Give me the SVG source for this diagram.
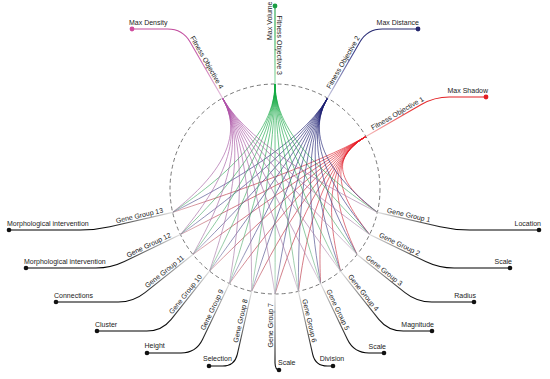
<svg xmlns="http://www.w3.org/2000/svg" width="550" height="379" viewBox="0 0 550 379">
<style>
text{font-family:"Liberation Sans",Arial,sans-serif;font-size:7px;fill:#222}
.gl{fill:none;stroke:url(#gGG);stroke-width:1.1}
.dot{fill:#111}
.ch{fill:none;stroke-width:0.65}
.c1{stroke:url(#cR)}.c2{stroke:url(#cN)}.c3{stroke:url(#cG)}.c4{stroke:url(#cM)}
.e{text-anchor:end}.m{text-anchor:middle}
</style>
<defs>
<radialGradient id="gGG" gradientUnits="userSpaceOnUse" cx="275" cy="189" r="190">
<stop offset="0.55" stop-color="#e2e2e2"/><stop offset="0.75" stop-color="#777"/><stop offset="0.9" stop-color="#111"/><stop offset="1" stop-color="#000"/>
</radialGradient>
<radialGradient id="gF1" gradientUnits="userSpaceOnUse" cx="275" cy="189" r="190">
<stop offset="0.55" stop-color="#f5c0c0"/><stop offset="0.85" stop-color="#e53030"/><stop offset="1" stop-color="#e21e22"/>
</radialGradient>
<radialGradient id="gF2" gradientUnits="userSpaceOnUse" cx="275" cy="189" r="190">
<stop offset="0.55" stop-color="#c8c8e0"/><stop offset="0.85" stop-color="#3a3c88"/><stop offset="1" stop-color="#25286e"/>
</radialGradient>
<radialGradient id="gF3" gradientUnits="userSpaceOnUse" cx="275" cy="189" r="190">
<stop offset="0.55" stop-color="#8fd8a6"/><stop offset="0.85" stop-color="#22a84c"/><stop offset="1" stop-color="#1a9e44"/>
</radialGradient>
<radialGradient id="gF4" gradientUnits="userSpaceOnUse" cx="275" cy="189" r="190">
<stop offset="0.55" stop-color="#e6c2de"/><stop offset="0.85" stop-color="#c45aa8"/><stop offset="1" stop-color="#c24a9c"/>
</radialGradient>
<radialGradient id="cR" gradientUnits="userSpaceOnUse" cx="365.9" cy="136.5" r="230">
<stop offset="0" stop-color="#ec1820"/><stop offset="0.3" stop-color="#d42838"/><stop offset="0.7" stop-color="#b83848"/><stop offset="1" stop-color="#d0b0b4"/>
</radialGradient>
<radialGradient id="cN" gradientUnits="userSpaceOnUse" cx="327.5" cy="98.1" r="230">
<stop offset="0" stop-color="#1a1c70"/><stop offset="0.4" stop-color="#2c2e7c"/><stop offset="0.75" stop-color="#555590"/><stop offset="1" stop-color="#c0c0d4"/>
</radialGradient>
<radialGradient id="cG" gradientUnits="userSpaceOnUse" cx="275" cy="84" r="230">
<stop offset="0" stop-color="#10aa40"/><stop offset="0.4" stop-color="#2aa855"/><stop offset="0.75" stop-color="#60b078"/><stop offset="1" stop-color="#c4dccb"/>
</radialGradient>
<radialGradient id="cM" gradientUnits="userSpaceOnUse" cx="222.5" cy="98.1" r="230">
<stop offset="0" stop-color="#b050a8"/><stop offset="0.4" stop-color="#a060a0"/><stop offset="0.75" stop-color="#a880a8"/><stop offset="1" stop-color="#dccedc"/>
</radialGradient>
</defs>
<rect width="550" height="379" fill="#fff"/>
<circle cx="275" cy="189" r="105" fill="none" stroke="#555" stroke-width="0.8" stroke-dasharray="4 3"/>
<g id="connectors">
<path class="ch c1" d="M365.9 136.5C315.9 165.4 358.95 198.3 377.4 212.4M365.9 136.5C315.9 165.4 353.49 213.84 369.6 234.6M365.9 136.5C315.9 165.4 344.74 227.77 357.1 254.5M365.9 136.5C315.9 165.4 333.12 239.39 340.5 271.1M365.9 136.5C315.9 165.4 319.19 248.14 320.6 283.6M365.9 136.5C315.9 165.4 303.65 253.6 298.4 291.4M365.9 136.5C315.9 165.4 287.27 255.42 275 294M365.9 136.5C315.9 165.4 270.89 253.6 251.6 291.4M365.9 136.5C315.9 165.4 255.35 248.14 229.4 283.6M365.9 136.5C315.9 165.4 241.42 239.39 209.5 271.1M365.9 136.5C315.9 165.4 229.8 227.77 192.9 254.5M365.9 136.5C315.9 165.4 221.05 213.84 180.4 234.6M365.9 136.5C315.9 165.4 215.59 198.3 172.6 212.4"/>
<path class="ch c2" d="M327.5 98.1C298.6 148.1 353.76 193.11 377.4 212.4M327.5 98.1C298.6 148.1 348.3 208.65 369.6 234.6M327.5 98.1C298.6 148.1 339.55 222.58 357.1 254.5M327.5 98.1C298.6 148.1 327.93 234.2 340.5 271.1M327.5 98.1C298.6 148.1 314 242.95 320.6 283.6M327.5 98.1C298.6 148.1 298.46 248.41 298.4 291.4M327.5 98.1C298.6 148.1 282.08 250.23 275 294M327.5 98.1C298.6 148.1 265.7 248.41 251.6 291.4M327.5 98.1C298.6 148.1 250.16 242.95 229.4 283.6M327.5 98.1C298.6 148.1 236.23 234.2 209.5 271.1M327.5 98.1C298.6 148.1 224.61 222.58 192.9 254.5M327.5 98.1C298.6 148.1 215.86 208.65 180.4 234.6M327.5 98.1C298.6 148.1 210.4 193.11 172.6 212.4"/>
<path class="ch c3" d="M275 84C275 141.75 346.68 191.21 377.4 212.4M275 84C275 141.75 341.22 206.75 369.6 234.6M275 84C275 141.75 332.47 220.68 357.1 254.5M275 84C275 141.75 320.85 232.3 340.5 271.1M275 84C275 141.75 306.92 241.05 320.6 283.6M275 84C275 141.75 291.38 246.51 298.4 291.4M275 84C275 141.75 275.3 248.33 275.01 294M275 84C275 141.75 258.62 246.51 251.6 291.4M275 84C275 141.75 243.08 241.05 229.4 283.6M275 84C275 141.75 229.15 232.3 209.5 271.1M275 84C275 141.75 217.53 220.68 192.9 254.5M275 84C275 141.75 208.78 206.75 180.4 234.6M275 84C275 141.75 203.32 191.21 172.6 212.4"/>
<path class="ch c4" d="M222.5 98.1C251.4 148.1 339.6 193.11 377.4 212.4M222.5 98.1C251.4 148.1 334.14 208.65 369.6 234.6M222.5 98.1C251.4 148.1 325.39 222.58 357.1 254.5M222.5 98.1C251.4 148.1 313.77 234.2 340.5 271.1M222.5 98.1C251.4 148.1 299.84 242.95 320.6 283.6M222.5 98.1C251.4 148.1 284.3 248.41 298.4 291.4M222.5 98.1C251.4 148.1 267.92 250.23 275 294M222.5 98.1C251.4 148.1 251.54 248.41 251.6 291.4M222.5 98.1C251.4 148.1 236 242.95 229.4 283.6M222.5 98.1C251.4 148.1 222.07 234.2 209.5 271.1M222.5 98.1C251.4 148.1 210.45 222.58 192.9 254.5M222.5 98.1C251.4 148.1 201.7 208.65 180.4 234.6M222.5 98.1C251.4 148.1 196.24 193.11 172.6 212.4"/>
</g>
<g id="fo1">
<path d="M365.9 136.5L421.3 104.5Q434.3 97 449.3 97L486 97" fill="none" stroke="url(#gF1)" stroke-width="1.1"/>
<circle cx="486" cy="97" r="2.4" fill="#e21e22"/>
<text transform="translate(373.7 132) rotate(-30)" y="-2">Fitness Objective 1</text>
<text class="e" x="488" y="92.5">Max Shadow</text>
</g>
<g id="fo2">
<path d="M327.5 98.1L359.9 42Q367.4 29 382.4 29L418 29" fill="none" stroke="url(#gF2)" stroke-width="1.1"/>
<circle cx="418" cy="29" r="2.4" fill="#25286e"/>
<text transform="translate(332 90.3) rotate(-60)" y="-2">Fitness Objective 2</text>
<text class="e" x="419" y="24.5">Max Distance</text>
</g>
<g id="fo3">
<path d="M275 84L275 6" fill="none" stroke="url(#gF3)" stroke-width="1.1"/>
<circle cx="275" cy="6" r="2.4" fill="#1a9e44"/>
<text class="e" transform="translate(275 75) rotate(90)" y="-2">Fitness Objective 3</text>
<text transform="translate(271.5 40) rotate(-90)">Max Volume</text>
</g>
<g id="fo4">
<path d="M222.5 98.1L190.1 42Q182.6 29 167.6 29L132 29" fill="none" stroke="url(#gF4)" stroke-width="1.1"/>
<circle cx="132" cy="29" r="2.4" fill="#d04c9e"/>
<text class="e" transform="translate(218 90.3) rotate(60)" y="-2">Fitness Objective 4</text>
<text x="129" y="24.5">Max Density</text>
</g>
<g id="gg1">
<path class="gl" d="M377.4 212.4L440.1 226.7Q454.7 230 469.7 230L539 230"/>
<circle class="dot" cx="539" cy="230" r="2.3"/>
<text transform="translate(386.1 214.4) rotate(12.86)" y="-2">Gene Group 1</text>
<text class="e" x="541" y="225.5">Location</text>
</g>
<g id="gg2">
<path class="gl" d="M369.6 234.6L425.6 261.5Q439.1 268 454.1 268L510 268"/>
<circle class="dot" cx="510" cy="268" r="2.3"/>
<text transform="translate(377.7 238.5) rotate(25.71)" y="-2">Gene Group 2</text>
<text class="e" x="512" y="263.5">Scale</text>
</g>
<g id="gg3">
<path class="gl" d="M357.1 254.5L405 292.6Q416.7 302 431.7 302L474 302"/>
<circle class="dot" cx="474" cy="302" r="2.3"/>
<text transform="translate(364.1 260.1) rotate(38.57)" y="-2">Gene Group 3</text>
<text class="e" x="476" y="297.5">Radius</text>
</g>
<g id="gg4">
<path class="gl" d="M340.5 271.1L378.8 319.3Q388.2 331 403.2 331L432 331"/>
<circle class="dot" cx="432" cy="331" r="2.3"/>
<text transform="translate(346.1 278.1) rotate(51.43)" y="-2">Gene Group 4</text>
<text class="e" x="434" y="326.5">Magnitude</text>
</g>
<g id="gg5">
<path class="gl" d="M320.6 283.6L347.5 339.5Q354 353 369 353L384 353"/>
<circle class="dot" cx="384" cy="353" r="2.3"/>
<text transform="translate(324.5 291.7) rotate(64.29)" y="-2">Gene Group 5</text>
<text class="e" x="386" y="348.5">Scale</text>
</g>
<g id="gg6">
<path class="gl" d="M298.4 291.4L312.7 354.3Q315.4 366 327.4 366L333 366"/>
<circle class="dot" cx="333" cy="366" r="2.3"/>
<text transform="translate(300.4 300.1) rotate(77.14)" y="-2">Gene Group 6</text>
<text class="m" x="332" y="361">Division</text>
</g>
<g id="gg7">
<path class="gl" d="M275 294L275 363Q275.3 370 279 370"/>
<circle class="dot" cx="279" cy="370" r="2.3"/>
<text class="e" transform="translate(275 303) rotate(-90)" y="-2">Gene Group 7</text>
<text x="278" y="365">Scale</text>
</g>
<g id="gg8">
<path class="gl" d="M251.6 291.4L237.3 354.3Q234.6 366 222.6 366L209 366"/>
<circle class="dot" cx="209" cy="366" r="2.3"/>
<text class="e" transform="translate(249.6 300.1) rotate(-77.14)" y="-2">Gene Group 8</text>
<text x="203" y="361">Selection</text>
</g>
<g id="gg9">
<path class="gl" d="M229.4 283.6L202.5 339.5Q196 353 181 353L147 353"/>
<circle class="dot" cx="147" cy="353" r="2.3"/>
<text class="e" transform="translate(225.5 291.7) rotate(-64.29)" y="-2">Gene Group 9</text>
<text x="144.5" y="348">Height</text>
</g>
<g id="gg10">
<path class="gl" d="M209.5 271.1L171.2 319.3Q161.8 331 146.8 331L97 331"/>
<circle class="dot" cx="97" cy="331" r="2.3"/>
<text class="e" transform="translate(203.9 278.1) rotate(-51.43)" y="-2">Gene Group 10</text>
<text x="95" y="326.5">Cluster</text>
</g>
<g id="gg11">
<path class="gl" d="M192.9 254.5L145 292.6Q133.3 302 118.3 302L56 302"/>
<circle class="dot" cx="56" cy="302" r="2.3"/>
<text class="e" transform="translate(185.9 260.1) rotate(-38.57)" y="-2">Gene Group 11</text>
<text x="54" y="297.5">Connections</text>
</g>
<g id="gg12">
<path class="gl" d="M180.4 234.6L124.4 261.5Q110.9 268 95.9 268L26 268"/>
<circle class="dot" cx="26" cy="268" r="2.3"/>
<text class="e" transform="translate(172.3 238.5) rotate(-25.71)" y="-2">Gene Group 12</text>
<text x="24" y="263.5">Morphological intervention</text>
</g>
<g id="gg13">
<path class="gl" d="M172.6 212.4L109.9 226.7Q95.3 230 80.3 230L9 230"/>
<circle class="dot" cx="9" cy="230" r="2.3"/>
<text class="e" transform="translate(163.9 214.4) rotate(-12.86)" y="-2">Gene Group 13</text>
<text x="7" y="225.5">Morphological intervention</text>
</g>
</svg>
